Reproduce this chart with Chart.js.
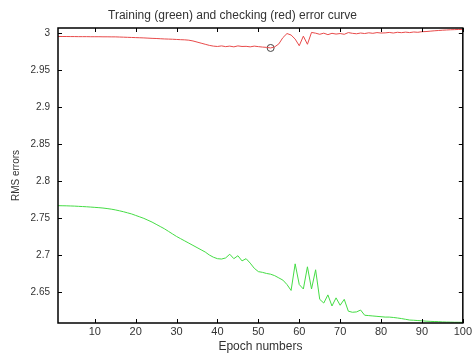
<!DOCTYPE html>
<html lang="en">
<head>
    <meta charset="UTF-8">
    <title>Training and checking error curve</title>
    <style>
        body {
            margin: 0;
            background-color: #fff;
        }

        .chart-box {
            width: 474px;
            height: 356px;
        }
    </style>
</head>
<body>
    <div class="chart-box">
        <canvas id="error-curve" width="474" height="356"></canvas>
    </div>

    <script src="https://cdn.jsdelivr.net/npm/chart.js"></script>
    <script>
        // Epoch numbers 1..100
        const epochs = [
            1, 2, 3, 4, 5, 6, 7, 8, 9, 10, 11, 12, 13, 14, 15, 16, 17, 18, 19, 20,
            21, 22, 23, 24, 25, 26, 27, 28, 29, 30, 31, 32, 33, 34, 35, 36, 37, 38, 39, 40,
            41, 42, 43, 44, 45, 46, 47, 48, 49, 50, 51, 52, 53, 54, 55, 56, 57, 58, 59, 60,
            61, 62, 63, 64, 65, 66, 67, 68, 69, 70, 71, 72, 73, 74, 75, 76, 77, 78, 79, 80,
            81, 82, 83, 84, 85, 86, 87, 88, 89, 90, 91, 92, 93, 94, 95, 96, 97, 98, 99, 100
        ];

        // Training error (green)
        const trainingError = [
            2.7667, 2.7666, 2.7665, 2.7663, 2.7661, 2.7658, 2.7655, 2.7652, 2.7648, 2.7644,
            2.7640, 2.7635, 2.7628, 2.7620, 2.7610, 2.7598, 2.7585, 2.7570, 2.7555, 2.7535,
            2.7515, 2.7495, 2.7470, 2.7445, 2.7415, 2.7385, 2.7355, 2.7320, 2.7285, 2.7250,
            2.7220, 2.7190, 2.7160, 2.7130, 2.7100, 2.7070, 2.7040, 2.7000, 2.6970, 2.6950,
            2.6945, 2.6960, 2.7010, 2.6950, 2.6990, 2.6920, 2.6950, 2.6890, 2.6820, 2.6775,
            2.6765, 2.6750, 2.6740, 2.6720, 2.6690, 2.6660, 2.6600, 2.6520, 2.6880, 2.6600,
            2.6540, 2.6840, 2.6540, 2.6800, 2.6400, 2.6350, 2.6460, 2.6310, 2.6420, 2.6320,
            2.6400, 2.6240, 2.6225, 2.6230, 2.6255, 2.6185, 2.6180, 2.6175, 2.6170, 2.6165,
            2.6160, 2.6160, 2.6155, 2.6148, 2.6140, 2.6130, 2.6120, 2.6117, 2.6113, 2.6110,
            2.6105, 2.6102, 2.6100, 2.6098, 2.6095, 2.6093, 2.6092, 2.6090, 2.6090, 2.6088
        ];

        // Checking error (red)
        const checkingError = [
            2.9955, 2.9955, 2.9955, 2.9954, 2.9954, 2.9953, 2.9953, 2.9953, 2.9952, 2.9952,
            2.9952, 2.9951, 2.9951, 2.9950, 2.9950, 2.9948, 2.9946, 2.9944, 2.9942, 2.9940,
            2.9938, 2.9936, 2.9933, 2.9930, 2.9928, 2.9925, 2.9922, 2.9920, 2.9918, 2.9915,
            2.9912, 2.9910, 2.9905, 2.9895, 2.9880, 2.9865, 2.9850, 2.9835, 2.9825, 2.9820,
            2.9828, 2.9818, 2.9825, 2.9815, 2.9828, 2.9820, 2.9822, 2.9815, 2.9825, 2.9818,
            2.9812, 2.9808, 2.9800, 2.9815, 2.9855, 2.9940, 2.9995, 2.9975, 2.9920, 2.9830,
            2.9960, 2.9850, 3.0010, 3.0000, 2.9985, 3.0000, 2.9980, 2.9998, 2.9988, 2.9995,
            2.9985, 3.0008, 2.9998, 2.9992, 3.0002, 2.9995, 3.0005, 2.9998, 3.0008, 3.0002,
            3.0004, 3.0010, 3.0002, 3.0012, 3.0007, 3.0014, 3.0008, 3.0016, 3.0012, 3.0020,
            3.0022, 3.0027, 3.0032, 3.0036, 3.0040, 3.0043, 3.0046, 3.0048, 3.0050, 3.0052
        ];

        // Minimum checking error marker
        const minEpoch = [53];
        const minError = [2.9800];

        // Axis ticks
        const xTicks = [10, 20, 30, 40, 50, 60, 70, 80, 90, 100];
        const yTicks = [3, 2.95, 2.9, 2.85, 2.8, 2.75, 2.7, 2.65];
        const yTickLabels = ['3', '2.95', '2.9', '2.85', '2.8', '2.75', '2.7', '2.65'];

        const textColor = '#333';
        const fontFamily = '"Liberation Sans", Arial, sans-serif';

        // MATLAB style box with inward ticks
        const boxPlugin = {
            id: 'boxPlugin',
            afterDraw(chart) {
                const ctx = chart.ctx;
                const area = chart.chartArea;
                const xs = chart.scales.x;
                const ys = chart.scales.y;
                const len = 4;
                ctx.save();
                ctx.strokeStyle = '#000';
                ctx.lineWidth = 1;
                xTicks.forEach(function(v) {
                    const px = Math.round(xs.getPixelForValue(v)) + 0.5;
                    ctx.beginPath();
                    ctx.moveTo(px, area.bottom);
                    ctx.lineTo(px, area.bottom - len);
                    ctx.moveTo(px, area.top);
                    ctx.lineTo(px, area.top + len);
                    ctx.stroke();
                });
                yTicks.forEach(function(v) {
                    const py = Math.round(ys.getPixelForValue(v)) + 0.5;
                    ctx.beginPath();
                    ctx.moveTo(area.left, py);
                    ctx.lineTo(area.left + len, py);
                    ctx.moveTo(area.right, py);
                    ctx.lineTo(area.right - len, py);
                    ctx.stroke();
                });
                ctx.lineWidth = 1.5;
                ctx.strokeRect(area.left, area.top, area.right - area.left, area.bottom - area.top);
                ctx.restore();
            }
        };

        new Chart(document.getElementById('error-curve'), {
            type: 'line',
            data: {
                datasets: [
                    {
                        label: 'Training error',
                        data: epochs.map(function(e, i) { return { x: e, y: trainingError[i] }; }),
                        borderColor: '#45dc45',
                        borderWidth: 1,
                        pointRadius: 0,
                        tension: 0
                    },
                    {
                        label: 'Checking error',
                        data: epochs.map(function(e, i) { return { x: e, y: checkingError[i] }; }),
                        borderColor: '#e84a4a',
                        borderWidth: 1,
                        pointRadius: 0,
                        tension: 0
                    },
                    {
                        label: 'Minimum',
                        data: minEpoch.map(function(e, i) { return { x: e, y: minError[i] }; }),
                        showLine: false,
                        pointStyle: 'circle',
                        pointRadius: 3.5,
                        pointBorderColor: '#444',
                        pointBackgroundColor: 'rgba(0,0,0,0)',
                        pointBorderWidth: 1
                    }
                ]
            },
            options: {
                responsive: false,
                animation: false,
                layout: {
                    padding: { left: 0, right: 9, top: 0, bottom: 0 }
                },
                plugins: {
                    legend: { display: false },
                    tooltip: { enabled: false },
                    title: {
                        display: true,
                        text: 'Training (green) and checking (red) error curve',
                        color: textColor,
                        font: { family: fontFamily, size: 12, weight: 'normal' },
                        padding: { top: 8, bottom: 5.6 }
                    }
                },
                scales: {
                    x: {
                        type: 'linear',
                        min: 1,
                        max: 100,
                        afterBuildTicks: function(scale) {
                            scale.ticks = xTicks.map(function(v) { return { value: v }; });
                        },
                        afterFit: function(scale) {
                            scale.height = 33;
                        },
                        grid: { display: false, drawTicks: false },
                        border: { display: false },
                        ticks: {
                            color: textColor,
                            font: { family: fontFamily, size: 11 },
                            padding: 2,
                            maxRotation: 0
                        },
                        title: {
                            display: true,
                            text: 'Epoch numbers',
                            color: textColor,
                            font: { family: fontFamily, size: 12 },
                            padding: { top: 0, bottom: 2 }
                        }
                    },
                    y: {
                        type: 'linear',
                        min: 2.608,
                        max: 3.007,
                        afterBuildTicks: function(scale) {
                            scale.ticks = yTicks.map(function(v) { return { value: v }; });
                        },
                        afterFit: function(scale) {
                            scale.width = 58;
                        },
                        grid: { display: false, drawTicks: false },
                        border: { display: false },
                        ticks: {
                            color: textColor,
                            font: { family: fontFamily, size: 10 },
                            padding: 8,
                            callback: function(value) {
                                const i = yTicks.indexOf(value);
                                return i >= 0 ? yTickLabels[i] : '';
                            }
                        },
                        title: {
                            display: true,
                            text: 'RMS errors',
                            color: textColor,
                            font: { family: fontFamily, size: 10 },
                            padding: { top: 10, bottom: 0 }
                        }
                    }
                }
            },
            plugins: [boxPlugin]
        });
    </script>
</body>
</html>
